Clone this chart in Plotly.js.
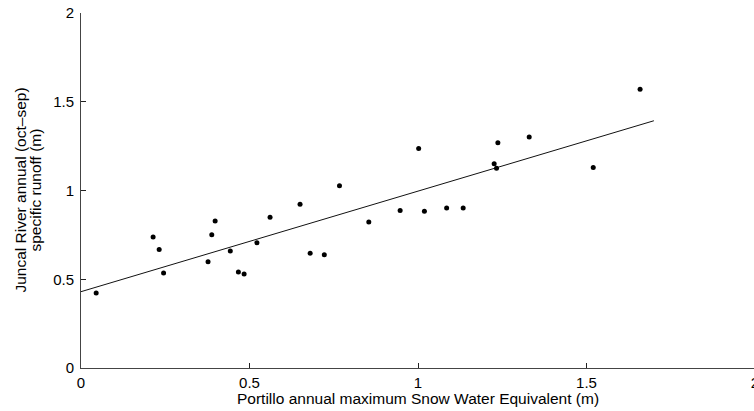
<!DOCTYPE html>
<html>
<head>
<meta charset="utf-8">
<script src="https://cdn.plot.ly/plotly-3.0.1.min.js"></script>
<style>
  html, body { margin: 0; padding: 0; background: #fff; overflow: hidden; }
  #chart { width: 757px; height: 411px; }
</style>
</head>
<body>
<div id="chart"></div>
<script>
// Annual maximum snow water equivalent at Portillo (m)
const sweMax = [
  0.045, 0.214, 0.232, 0.245, 0.377, 0.388, 0.398, 0.443, 0.467, 0.484,
  0.522, 0.561, 0.650, 0.680, 0.722, 0.767, 0.854, 0.947, 1.002, 1.019,
  1.085, 1.134, 1.226, 1.233, 1.237, 1.330, 1.520, 1.659
];
// Juncal River annual (Oct–Sep) specific runoff (m)
const runoff = [
  0.423, 0.738, 0.667, 0.535, 0.599, 0.751, 0.828, 0.659, 0.541, 0.530,
  0.706, 0.849, 0.922, 0.646, 0.638, 1.027, 0.823, 0.888, 1.237, 0.883,
  0.901, 0.901, 1.151, 1.125, 1.269, 1.301, 1.130, 1.570
];
// Linear fit end points
const fitX = [0, 1.70];
const fitY = [0.430, 1.393];

const tickValues = [0, 0.5, 1, 1.5, 2];
const tickLabels = ['0', '0.5', '1', '1.5', '2'];

const xTitle = 'Portillo annual maximum Snow Water Equivalent (m)';
const yTitleLines = ['Juncal River annual (oct\u2013sep)', 'specific runoff (m)'];

const FONT = '"Liberation Sans", Arial, Helvetica, sans-serif';
const INK = '#000';
const TITLE_SIZE = 15.5;

const traces = [
  {
    x: fitX, y: fitY, type: 'scatter', mode: 'lines',
    line: { color: '#111', width: 1 },
    hoverinfo: 'skip', showlegend: false
  },
  {
    x: sweMax, y: runoff, type: 'scatter', mode: 'markers',
    marker: { color: INK, size: 5 },
    showlegend: false
  }
];

const axisCommon = {
  range: [0, 2],
  tickmode: 'array',
  tickvals: tickValues,
  ticktext: tickLabels,
  ticks: 'inside',
  ticklen: 5,
  tickwidth: 1,
  tickcolor: '#222',
  showline: true,
  linecolor: '#444',
  linewidth: 1,
  showgrid: false,
  zeroline: false,
  automargin: false,
  ticklabeloverflow: 'allow',
  tickfont: { family: FONT, size: 15, color: INK }
};

const layout = {
  width: 757,
  height: 411,
  margin: { l: 81, r: 2, t: 13, b: 43, pad: 0 },
  paper_bgcolor: '#fff',
  plot_bgcolor: '#fff',
  showlegend: false,
  xaxis: Object.assign({}, axisCommon, { ticklabelstandoff: 1 }),
  yaxis: Object.assign({}, axisCommon, { ticklabelstandoff: 3 }),
  annotations: [
    {
      text: xTitle, xref: 'paper', yref: 'paper', x: 0.5, y: 0,
      xanchor: 'center', yanchor: 'middle', yshift: -30, showarrow: false,
      font: { family: FONT, size: TITLE_SIZE, color: INK }
    },
    {
      text: yTitleLines[0], xref: 'paper', yref: 'paper', x: 0, y: 0.5,
      xanchor: 'center', yanchor: 'middle', xshift: -61, textangle: -90,
      showarrow: false, font: { family: FONT, size: TITLE_SIZE, color: INK }
    },
    {
      text: yTitleLines[1], xref: 'paper', yref: 'paper', x: 0, y: 0.5,
      xanchor: 'center', yanchor: 'middle', xshift: -46, textangle: -90,
      showarrow: false, font: { family: FONT, size: TITLE_SIZE, color: INK }
    }
  ]
};

Plotly.newPlot('chart', traces, layout, { staticPlot: true, displayModeBar: false });
</script>
</body>
</html>
